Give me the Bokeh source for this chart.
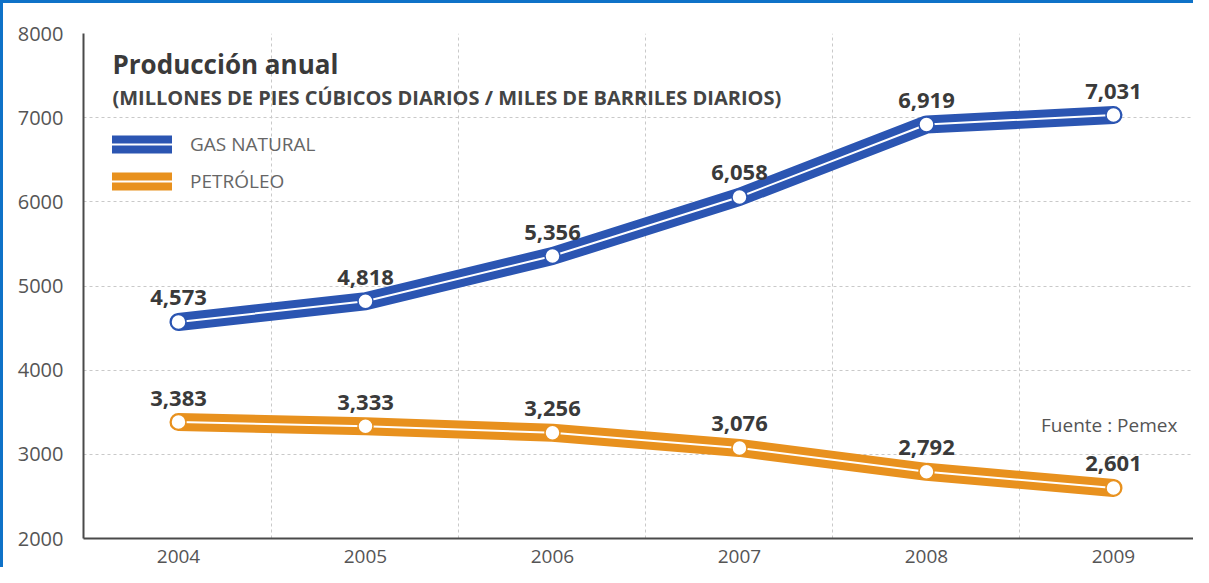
from bokeh.plotting import figure
from bokeh.models import ColumnDataSource, Range1d, FixedTicker, Legend, LegendItem
from bokeh.core.properties import value
from bokeh.embed import file_html
from bokeh.resources import INLINE

years = [2004, 2005, 2006, 2007, 2008, 2009]
year_labels = ["2004", "2005", "2006", "2007", "2008", "2009"]
gas = [4573, 4818, 5356, 6058, 6919, 7031]
oil = [3383, 3333, 3256, 3076, 2792, 2601]
y_ticks = [2000, 3000, 4000, 5000, 6000, 7000, 8000]
grid_y = [3000, 4000, 5000, 6000, 7000]
grid_x = [2004.5, 2005.5, 2006.5, 2007.5, 2008.5, 2009.5]

title_text = "Producción anual"
subtitle_text = "(MILLONES DE PIES CÚBICOS DIARIOS / MILES DE BARRILES DIARIOS)"
source_text = "Fuente : Pemex"
series_names = ["GAS NATURAL", "PETRÓLEO"]

BLUE = "#2b55b2"
ORANGE = "#e8911e"
FONT = "Open Sans"

p = figure(width=1193, height=567, output_backend="svg", toolbar_location=None,
           x_range=Range1d(2003.492, 2009.444), y_range=Range1d(2000, 8000),
           min_border_left=80, min_border_top=30, min_border_bottom=32, min_border_right=0)
p.styles = {"border-top": "3px solid #0f72c8", "border-left": "3px solid #0f72c8"}
p.outline_line_color = None
p.background_fill_color = "white"
p.border_fill_color = "white"

# axes
for ax in (p.xaxis[0], p.yaxis[0]):
    ax.axis_line_color = "#4a4a4a"
    ax.axis_line_width = 2
    ax.major_tick_line_color = None
    ax.minor_tick_line_color = None
    ax.major_label_text_font = FONT
    ax.major_label_text_color = "#555555"
    ax.major_label_text_font_size = "19px"
p.xaxis.ticker = FixedTicker(ticks=years)
p.xaxis.major_label_overrides = {y: l for y, l in zip(years, year_labels)}
p.xaxis.major_label_standoff = 5
p.yaxis.ticker = FixedTicker(ticks=y_ticks)
p.yaxis.major_label_standoff = 14
p.yaxis.major_label_text_font_size = "20px"

# grids
p.xgrid.ticker = FixedTicker(ticks=grid_x)
p.ygrid.ticker = FixedTicker(ticks=grid_y)
for g in (p.xgrid[0], p.ygrid[0]):
    g.grid_line_color = "#c9c9c9"
    g.grid_line_dash = "3 3"
    g.grid_line_width = 1

src_gas = ColumnDataSource(dict(x=years, y=gas, lab=[f"{v:,}" for v in gas]))
src_oil = ColumnDataSource(dict(x=years, y=oil, lab=[f"{v:,}" for v in oil]))

items = []
for src, col, name in ((src_gas, BLUE, series_names[0]), (src_oil, ORANGE, series_names[1])):
    thick = p.line("x", "y", source=src, line_color=col, line_width=18,
                   line_join="round", line_cap="round")
    thin = p.line("x", "y", source=src, line_color="white", line_width=2,
                  line_join="round", line_cap="round")
    p.scatter("x", "y", source=src, size=15, fill_color="white", line_color=col, line_width=1.5)
    p.text("x", "y", text="lab", source=src, text_align="center", text_baseline="alphabetic",
           y_offset=-24, text_font=value(FONT), text_font_style="bold",
           text_font_size="22px", text_color="#3a3a3a")
    items.append(LegendItem(label=name, renderers=[thick, thin]))

legend = Legend(items=items, location=(29, 343), orientation="vertical",
                glyph_width=60, glyph_height=28, label_height=28, spacing=9,
                label_standoff=18, padding=0, margin=0,
                border_line_color=None, background_fill_alpha=0,
                label_text_font=FONT, label_text_font_size="19px",
                label_text_color="#666666")
p.add_layout(legend, "center")

# title, subtitle, source note
p.text(x=[2003.647], y=[7643], text=[title_text], text_font=value(FONT),
       text_font_style="bold", text_font_size="26px", text_color="#3a3a3a",
       text_baseline="alphabetic", text_align="left")
p.text(x=[2003.647], y=[7239], text=[subtitle_text], text_font=value(FONT),
       text_font_style="bold", text_font_size="20px", text_color="#444444",
       text_baseline="alphabetic", text_align="left")
p.text(x=[2009.342], y=[3354], text=[source_text], text_font=value(FONT),
       text_font_size="19px", text_color="#555555",
       text_baseline="alphabetic", text_align="right")

open("out.html", "w").write(file_html(p, INLINE))
